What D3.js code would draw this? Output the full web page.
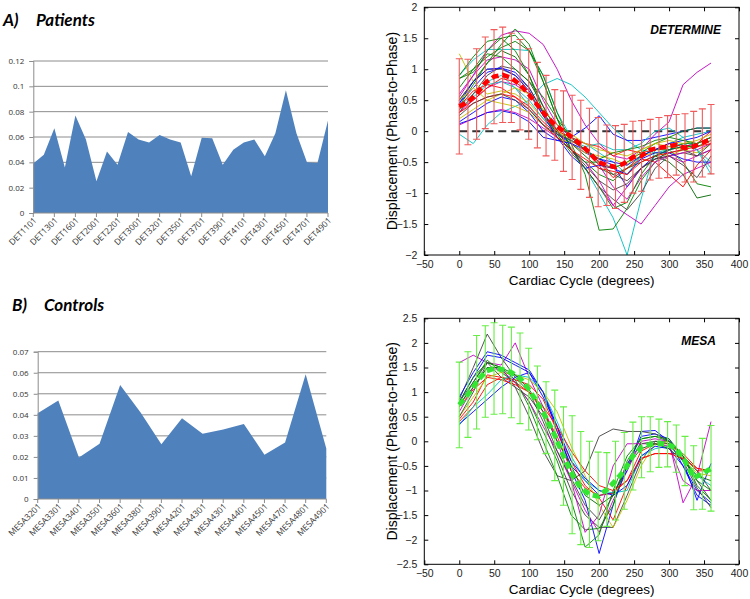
<!DOCTYPE html>
<html><head><meta charset="utf-8">
<script src="https://cdn.jsdelivr.net/npm/d3@7"></script>
<style>body{margin:0;background:#fff}svg{display:block}</style>
</head><body>
<svg id="c" width="750" height="599"></svg>
<script>
// ---------- Left panels (area charts) ----------
const patientIds = ["DET1101","DET1201","DET1301","DET1501","DET1601","DET1801","DET2001","DET2101","DET2201","DET2301","DET3001","DET3101","DET3201","DET3301","DET3501","DET3601","DET3701","DET3801","DET3901","DET4001","DET4101","DET4201","DET4301","DET4401","DET4501","DET4601","DET4701","DET4801","DET4901"];
const patientValues = [0.039,0.046,0.067,0.036,0.077,0.058,0.025,0.0485,0.038,0.064,0.058,0.0556,0.0616,0.058,0.0556,0.029,0.0595,0.059,0.038,0.050,0.0556,0.058,0.0448,0.063,0.097,0.063,0.040,0.0395,0.073];
const patientTicks = [0,0.02,0.04,0.06,0.08,0.1,0.12];

const controlIds = ["MESA3201","MESA3301","MESA3401","MESA3501","MESA3601","MESA3801","MESA3901","MESA4201","MESA4301","MESA4301","MESA4401","MESA4501","MESA4701","MESA4801","MESA4901"];
const controlValues = [0.0408,0.0468,0.0197,0.0262,0.0542,0.041,0.026,0.0384,0.031,0.033,0.0357,0.021,0.0268,0.0593,0.024];
const controlTicks = [0,0.01,0.02,0.03,0.04,0.05,0.06,0.07];

// ---------- Right panels (displacement curves) ----------
const xTicks = [-50,0,50,100,150,200,250,300,350,400];
const detYTicks = [-2,-1.5,-1,-0.5,0,0.5,1,1.5,2];
const mesaYTicks = [-2.5,-2,-1.5,-1,-0.5,0,0.5,1,1.5,2,2.5];

const curveDegrees = [0,20,40,60,80,100,120,140,160,180,200,220,240,260,280,300,320,340,360];
const meanDegrees = [0,12.4,24.8,37.2,49.7,62.1,74.5,86.9,99.3,111.7,124.1,136.6,149.0,161.4,173.8,186.2,198.6,211.0,223.4,235.9,248.3,260.7,273.1,285.5,297.9,310.3,322.8,335.2,347.6,360];

const detColors = ["#bf00bf","#00bfbf","#00bfbf","#00bfbf","#008000","#bf00bf","#006400","#008000","#404040","#0000ff","#0000ff","#ff0000","#ff0000","#bfbf00","#bfbf00","#bf00bf","#bf00bf","#00bfbf","#008000","#404040","#0000ff","#0000ff","#ff0000","#008000","#bfbf00","#404040","#008000"];
const detCurves = [
 [0.55,0.9,1.3,1.55,1.62,1.58,1.4,1.0,0.5,0.1,-0.2,-0.4,-0.45,-0.3,-0.05,0.15,0.75,0.95,1.1],
 [0.9,1.15,1.32,1.32,1.32,1.3,0.9,0.3,-0.1,-0.2,-0.35,-0.5,-0.7,-0.4,-0.3,-0.2,-0.1,-0.05,0.0],
 [-0.05,-0.2,0.1,0.3,0.4,0.5,0.75,0.85,0.75,0.55,0.3,0.05,-0.15,-0.3,-0.35,-0.3,-0.2,-0.3,-0.5],
 [0.4,0.6,0.8,0.9,0.7,0.4,0.1,-0.1,-0.3,-0.6,-1.0,-1.4,-2.0,-1.1,-0.3,-0.25,-0.2,-0.3,-0.6],
 [0.85,1.0,1.2,1.35,1.45,1.3,0.9,0.3,-0.2,-0.7,-1.6,-1.58,-1.25,-0.8,-0.5,-0.3,-0.2,-0.2,-0.1],
 [0.3,0.5,0.7,0.8,0.75,0.6,0.3,0.0,-0.3,-0.6,-0.9,-1.2,-1.35,-1.5,-1.2,-0.9,-0.7,-0.6,-0.5],
 [0.5,0.8,1.1,1.3,1.2,0.9,0.4,0.0,-0.2,-0.4,-0.6,-0.7,-0.6,-0.5,-0.4,-0.5,-0.7,-1.08,-1.03],
 [0.7,1.0,1.3,1.5,1.55,1.3,0.8,0.2,-0.3,-0.5,-0.7,-0.8,-0.6,-0.4,-0.3,-0.3,-0.5,-0.85,-0.9],
 [0.3,0.6,0.9,1.05,1.0,0.8,0.4,0.0,-0.3,-0.6,-0.9,-1.1,-1.27,-1.0,-0.6,-0.4,-0.35,-0.4,-0.3],
 [0.45,0.7,0.95,1.02,0.95,0.7,0.3,-0.05,-0.2,-0.35,-0.45,-0.55,-0.9,-0.6,-0.4,-0.3,-0.25,-0.2,-0.1],
 [0.15,0.3,0.45,0.55,0.5,0.3,0.0,-0.15,-0.1,0.05,0.25,-0.05,-0.15,-0.15,-0.1,-0.05,0.0,0.05,0.05],
 [0.35,0.5,0.7,0.85,0.8,0.6,0.25,0.0,-0.1,-0.2,-0.25,-0.4,-0.3,-0.35,-0.3,-0.2,-0.25,-0.2,0.0],
 [0.3,0.45,0.55,0.6,0.55,0.4,0.15,-0.05,-0.15,-0.3,-0.5,-0.75,-0.6,-0.45,-0.5,-0.7,-0.9,-0.55,-0.3],
 [1.25,0.8,0.6,0.65,0.6,0.45,0.2,0.0,-0.15,-0.3,-0.55,-0.6,-0.5,-0.4,-0.35,-0.4,-0.3,-0.2,-0.1],
 [0.2,0.35,0.5,0.45,0.4,0.3,0.1,-0.1,-0.2,-0.35,-0.4,-0.45,-0.55,-0.3,-0.2,-0.25,-0.3,-0.35,-0.2],
 [0.6,0.9,1.15,1.2,1.15,1.0,0.5,0.1,-0.1,-0.3,-0.55,-0.9,-1.1,-0.75,-0.5,-0.4,-0.35,-0.3,-0.2],
 [0.1,0.2,0.3,0.35,0.3,0.2,0.05,-0.1,-0.3,-0.5,-0.8,-1.2,-0.9,-0.6,-0.45,-0.4,-0.5,-0.4,-0.3],
 [0.35,0.55,0.75,0.8,0.7,0.5,0.2,-0.05,-0.15,-0.25,-0.2,-0.3,-0.3,-0.2,0.0,0.05,-0.1,-0.3,-0.7],
 [0.4,0.75,1.1,1.4,1.65,1.4,0.8,0.2,-0.3,-0.5,-0.5,-0.6,-0.5,-0.35,-0.2,-0.1,0.0,0.05,0.05],
 [0.5,0.8,1.0,1.0,0.9,0.7,0.3,-0.1,-0.3,-0.55,-0.8,-0.95,-0.85,-0.6,-0.45,-0.35,-0.3,-0.4,-0.2],
 [0.12,0.2,0.3,0.33,0.28,0.15,-0.1,-0.15,-0.2,-0.3,-0.45,-0.5,-0.55,-0.4,-0.3,-0.2,-0.15,-0.1,0.0],
 [0.45,0.8,1.0,1.02,0.9,0.65,0.25,-0.1,-0.4,-0.6,-0.55,-0.6,-0.7,-0.45,-0.35,-0.35,-0.45,-0.5,-0.5],
 [0.4,0.65,0.75,0.7,0.55,0.35,0.1,-0.1,-0.3,-0.45,-0.6,-0.65,-0.7,-0.5,-0.4,-0.35,-0.3,-0.25,-0.2],
 [0.9,1.2,1.45,1.5,1.3,0.9,0.3,-0.05,-0.35,-0.6,-0.9,-1.25,-1.15,-0.7,-0.4,-0.3,-0.25,-0.25,-0.15],
 [0.5,0.7,0.5,0.6,0.7,0.6,0.35,0.1,-0.05,-0.2,-0.3,-0.35,-0.4,-0.3,-0.2,-0.15,-0.2,-0.15,-0.05],
 [0.25,0.45,0.55,0.6,0.5,0.35,0.1,-0.05,-0.15,-0.3,-0.5,-0.7,-0.8,-0.6,-0.45,-0.4,-0.55,-0.75,-0.4],
 [0.85,0.95,1.25,1.2,1.0,0.8,0.55,0.2,-0.1,-0.3,-0.45,-0.35,-0.3,-0.25,-0.15,-0.1,-0.15,-0.2,-0.1]
];
const detMean = [0.4,0.47,0.6,0.78,0.88,0.91,0.86,0.75,0.6,0.42,0.25,0.1,0.0,-0.1,-0.22,-0.35,-0.5,-0.55,-0.58,-0.52,-0.42,-0.4,-0.3,-0.27,-0.25,-0.22,-0.27,-0.25,-0.19,-0.13];
const detSd = [0.77,0.69,0.73,0.74,0.76,0.77,0.72,0.73,0.73,0.69,0.65,0.57,0.65,0.68,0.72,0.72,0.72,0.65,0.67,0.63,0.58,0.57,0.49,0.49,0.5,0.49,0.55,0.57,0.55,0.56];

const mesaColors = ["#404040","#bf00bf","#0000ff","#0000ff","#008000","#ff0000","#ff0000","#00bfbf","#bfbf00","#404040","#008000","#0000ff","#bf00bf","#404040","#006400","#ff0000"];
const mesaCurves = [
 [0.85,1.5,2.18,1.7,1.3,1.0,0.4,-0.3,-1.0,-1.5,-1.75,-1.75,-1.1,-0.4,0.0,0.0,-0.3,-0.8,-1.2],
 [1.6,1.75,1.6,1.55,2.0,1.3,0.7,0.0,-0.8,-1.4,-1.85,-1.2,-0.6,0.0,0.05,0.0,-1.25,-0.7,0.4],
 [0.9,1.4,1.82,1.75,1.6,1.45,1.0,0.2,-0.5,-0.8,-1.1,-1.05,-0.6,0.2,0.22,0.0,-0.5,-1.1,-1.3],
 [0.8,1.3,1.75,1.7,1.55,1.4,0.9,0.3,-0.6,-1.2,-2.28,-1.3,-0.5,0.1,0.15,0.05,-0.4,-1.2,-0.45],
 [0.7,1.2,1.65,1.4,1.2,0.8,0.2,-0.4,-1.2,-2.15,-1.9,-1.0,-0.3,0.05,0.1,0.05,-0.3,-0.9,-1.2],
 [0.45,0.8,1.35,1.3,1.2,1.0,0.6,0.1,-0.6,-0.95,-1.1,-1.05,-0.8,-0.2,-0.05,-0.05,-0.3,-0.6,-0.6],
 [0.4,0.7,1.15,1.3,1.25,1.15,0.85,0.2,-0.4,-0.9,-1.15,-1.6,-0.9,-0.35,-0.25,-0.25,-0.25,-0.55,-0.6],
 [0.33,0.7,0.95,1.25,1.35,1.3,1.0,0.4,-0.3,-0.8,-1.0,-1.05,-1.0,-0.3,-0.15,-0.1,-0.35,-0.7,-0.9],
 [0.5,0.9,1.3,1.4,1.35,1.25,1.0,0.6,-0.1,-0.7,-1.3,-1.75,-1.2,-0.5,-0.05,0.0,-0.35,-0.65,-0.7],
 [0.8,1.2,1.6,1.5,1.1,0.5,-0.2,-0.7,-0.8,-0.6,0.1,0.25,0.2,0.2,0.15,0.0,-0.3,-0.6,-1.0],
 [0.8,1.3,1.6,1.5,1.25,0.7,0.0,-0.7,-1.5,-1.8,-1.77,-1.3,-0.4,0.05,0.1,0.0,-0.3,-0.8,-1.0],
 [0.35,0.6,0.85,1.1,1.3,1.4,1.0,0.3,-0.4,-0.75,-1.0,-1.1,-0.9,-0.3,-0.1,-0.15,-0.5,-1.0,-1.25],
 [0.6,1.1,1.5,1.45,1.2,0.8,0.3,-0.2,-0.8,-1.85,-1.5,-0.5,-0.05,-0.05,-0.05,-0.1,-0.8,-1.0,-1.0],
 [0.5,1.0,1.6,1.3,1.1,0.9,0.5,-0.2,-0.75,-1.3,-1.6,-1.1,-0.45,-0.05,0.0,-0.05,-0.4,-0.95,-1.35],
 [0.75,1.1,1.5,1.5,1.35,1.05,0.6,0.0,-0.5,-1.1,-1.3,-1.1,-0.5,-0.15,-0.05,-0.15,-0.4,-0.7,-0.8],
 [0.7,1.05,1.3,1.25,1.15,1.0,0.7,0.3,-0.2,-0.6,-0.9,-1.0,-0.8,-0.35,-0.25,-0.25,-0.35,-0.55,-0.6]
];
const mesaMean = [0.74,0.95,1.2,1.42,1.48,1.46,1.4,1.28,1.06,0.78,0.48,0.12,-0.3,-0.68,-0.95,-1.08,-1.12,-0.98,-0.8,-0.6,-0.3,-0.12,-0.06,-0.04,-0.06,-0.15,-0.4,-0.74,-0.66,-0.55];
const mesaSd = [0.87,0.87,0.95,0.93,0.93,0.9,0.92,0.92,0.83,0.75,0.73,0.92,1.0,1.2,1.15,1.08,0.9,0.75,0.8,0.78,0.69,0.62,0.56,0.49,0.46,0.48,0.5,0.65,0.72,0.87];

// ================= drawing =================
const svg = d3.select("#c");
const excelFont = "'Open Sans','Liberation Sans',Arial,sans-serif";
const titleFont = "Lato,'Open Sans',sans-serif";
const mlFont = "'Liberation Sans',Arial,Helvetica,sans-serif";

function areaPanel(ids, vals, ticks, yMax, box, labelEvery, labelOff) {
  const x = d3.scaleLinear([0, ids.length - 1], [box.x0, box.x1]);
  const y = d3.scaleLinear([0, yMax], [box.y1, box.y0]);
  const g = svg.append("g");
  g.selectAll("line.grid").data(ticks.filter(t => t > 0)).join("line")
    .attr("x1", box.x0).attr("x2", box.x1)
    .attr("y1", d => y(d)).attr("y2", d => y(d))
    .attr("stroke", "#8c8c8c").attr("stroke-width", 1);
  g.append("path").datum(vals)
    .attr("d", d3.area().x((d, i) => x(i)).y0(y(0)).y1(d => y(d)))
    .attr("fill", "#4f81bd");
  const ya = d3.axisLeft(y).tickValues(ticks).tickSize(4).tickPadding(5).tickFormat(d => d === 0 ? "0" : d3.format("")(+d.toFixed(3)));
  const yg = g.append("g").attr("transform", `translate(${box.x0},0)`).call(ya);
  yg.select(".domain").attr("stroke", "#8c8c8c");
  yg.selectAll(".tick line").attr("stroke", "#8c8c8c");
  yg.selectAll("text").attr("font-family", excelFont).attr("font-size", 8).attr("fill", "#333");
  const xg = g.append("g");
  xg.append("line").attr("x1", box.x0).attr("x2", box.x1).attr("y1", box.y1).attr("y2", box.y1).attr("stroke", "#8c8c8c");
  const shown = ids.map((d, i) => i).filter(i => i % labelEvery === 0);
  xg.selectAll("line.t").data(shown).join("line")
    .attr("x1", i => x(i)).attr("x2", i => x(i)).attr("y1", box.y1).attr("y2", box.y1 + 4)
    .attr("stroke", "#8c8c8c");
  xg.selectAll("text").data(shown).join("text")
    .attr("transform", i => `translate(${x(i) + labelOff.dx},${box.y1 + labelOff.dy}) rotate(-45)`)
    .attr("text-anchor", "end").attr("font-family", excelFont).attr("font-size", 8.5).attr("fill", "#333")
    .text(i => ids[i]);
}

areaPanel(patientIds, patientValues, patientTicks, 0.12, {x0: 33.3, x1: 328, y0: 61, y1: 213}, 2, {dx: 4, dy: 8});
areaPanel(controlIds, controlValues, controlTicks, 0.07, {x0: 37.7, x1: 326.3, y0: 351.7, y1: 499}, 1, {dx: 4, dy: 8});

function title(letter, word, x0, x1, yb) {
  const t = svg.append("g").attr("font-family", titleFont).attr("font-size", 17)
    .attr("font-weight", "bold").attr("font-style", "italic").attr("fill", "#000");
  t.append("text").attr("x", x0).attr("y", yb).text(letter);
  t.append("text").attr("x", x1).attr("y", yb).text(word);
}
title("A)", "Patients", 3, 36, 26);
title("B)", "Controls", 12, 44, 311);

function linePanel(opts) {
  const {box, yDomain, yTicks, curves, colors, mean, sd, errColor, meanColor, meanWidth, label, labelX, labelY, zeroLine} = opts;
  const x = d3.scaleLinear([-50, 400], [box.x0, box.x1]);
  const y = d3.scaleLinear(yDomain, [box.y1, box.y0]);
  const g = svg.append("g");
  const clipId = "clip" + label;
  svg.append("clipPath").attr("id", clipId).append("rect")
    .attr("x", box.x0).attr("y", box.y0).attr("width", box.x1 - box.x0).attr("height", box.y1 - box.y0);
  const pg = g.append("g").attr("clip-path", `url(#${clipId})`);
  if (zeroLine) {
    pg.append("line").attr("x1", x(0)).attr("x2", x(360)).attr("y1", y(0)).attr("y2", y(0))
      .attr("stroke", "#333").attr("stroke-width", 2).attr("stroke-dasharray", "8,5");
  }
  const line = d3.line().x((d, i) => x(curveDegrees[i])).y(d => y(d));
  pg.selectAll("path.c").data(curves).join("path")
    .attr("d", line).attr("fill", "none")
    .attr("stroke", (d, i) => colors[i]).attr("stroke-width", 0.9);
  const eb = pg.append("g").attr("stroke", errColor).attr("stroke-width", 1.1);
  meanDegrees.forEach((d, i) => {
    const xp = x(d), lo = y(mean[i] - sd[i]), hi = y(mean[i] + sd[i]);
    eb.append("line").attr("x1", xp).attr("x2", xp).attr("y1", lo).attr("y2", hi);
    eb.append("line").attr("x1", xp - 3.5).attr("x2", xp + 3.5).attr("y1", lo).attr("y2", lo);
    eb.append("line").attr("x1", xp - 3.5).attr("x2", xp + 3.5).attr("y1", hi).attr("y2", hi);
  });
  pg.append("path").datum(mean)
    .attr("d", d3.line().x((d, i) => x(meanDegrees[i])).y(d => y(d)))
    .attr("fill", "none").attr("stroke", meanColor).attr("stroke-width", meanWidth)
    .attr("stroke-dasharray", "7,4");
  g.append("rect").attr("x", box.x0).attr("y", box.y0).attr("width", box.x1 - box.x0).attr("height", box.y1 - box.y0)
    .attr("fill", "none").attr("stroke", "#000").attr("stroke-width", 1);
  const style = sel => {
    sel.select(".domain").remove();
    sel.selectAll(".tick line").attr("stroke", "#000");
    sel.selectAll("text").attr("font-family", mlFont).attr("font-size", 10.5).attr("fill", "#222");
  };
  g.append("g").attr("transform", `translate(${box.x0},0)`)
    .call(d3.axisLeft(y).tickValues(yTicks).tickSize(-4).tickPadding(7).tickFormat(d3.format(""))).call(style);
  g.append("g").attr("transform", `translate(${box.x1},0)`)
    .call(d3.axisRight(y).tickValues(yTicks).tickSize(-4).tickFormat("")).call(style);
  g.append("g").attr("transform", `translate(0,${box.y1})`)
    .call(d3.axisBottom(x).tickValues(xTicks).tickSize(-4).tickPadding(5.5).tickFormat(d3.format(""))).call(style);
  g.append("g").attr("transform", `translate(0,${box.y0})`)
    .call(d3.axisTop(x).tickValues(xTicks).tickSize(-4).tickFormat("")).call(style);
  g.append("text").attr("x", (box.x0 + box.x1) / 2).attr("y", box.y1 + 30).attr("text-anchor", "middle")
    .attr("font-family", mlFont).attr("font-size", 13.5).text("Cardiac Cycle (degrees)");
  g.append("text").attr("transform", `translate(${box.x0 - 27},${(box.y0 + box.y1) / 2}) rotate(-90)`)
    .attr("text-anchor", "middle").attr("font-family", mlFont).attr("font-size", 14)
    .text("Displacement (Phase-to-Phase)");
  g.append("text").attr("x", labelX).attr("y", labelY).attr("text-anchor", "end")
    .attr("font-family", mlFont).attr("font-size", 12).attr("font-weight", "bold").attr("font-style", "italic")
    .text(label);
}

linePanel({box: {x0: 424.3, x1: 739, y0: 7.3, y1: 255}, yDomain: [-2, 2], yTicks: detYTicks,
  curves: detCurves, colors: detColors, mean: detMean, sd: detSd,
  errColor: "#f05a5a", meanColor: "#ff0000", meanWidth: 4.5,
  label: "DETERMINE", labelX: 721, labelY: 34, zeroLine: true});
linePanel({box: {x0: 424.3, x1: 739, y0: 318.3, y1: 564.3}, yDomain: [-2.5, 2.5], yTicks: mesaYTicks,
  curves: mesaCurves, colors: mesaColors, mean: mesaMean, sd: mesaSd,
  errColor: "#66ee44", meanColor: "#33e633", meanWidth: 5,
  label: "MESA", labelX: 716, labelY: 345, zeroLine: false});
</script>
</body></html>
